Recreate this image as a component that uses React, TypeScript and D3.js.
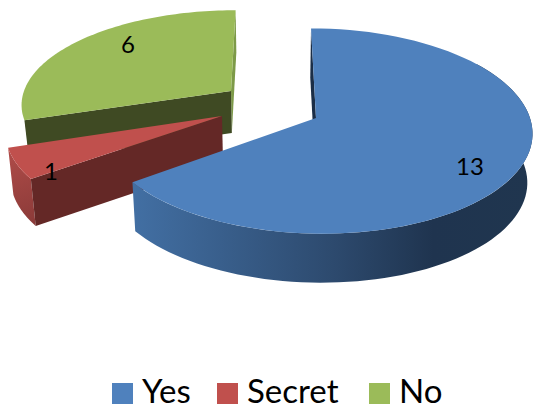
import React from "react";
import * as d3 from "d3";

const categories = ["Yes", "Secret", "No"];
const values = [13, 1, 6];
const dataLabels = ["13", "1", "6"];

const topColors = ["#4f81bd", "#c0504d", "#9bbb59"];
const apexX = [316, 222, 231];
const apexY = [118, 116, 91];
const radiusX = [214, 214, 207];
const radiusY = [101, 99, 91];
const depths = [49, 47, 42];
const labelX = [470, 51, 128];
const labelY = [175, 180, 53];
const legendSwatchX = [112, 217, 369];
const legendTextX = [142, 247, 399];

const width = 534;
const height = 405;
const vanishX = 272;
const perspective = 0.127;
const floorScale = 0.98;

type Pt = [number, number];

// Perspective projection of a point on a slice's rim (t measured clockwise from the back).
const rim = (i: number, t: number): Pt => {
  const u = Math.sin(t);
  const v = -Math.cos(t);
  const d = 1 - perspective * v;
  return [
    vanishX + (apexX[i] - vanishX + radiusX[i] * u) / d,
    apexY[i] + (radiusY[i] * v) / d,
  ];
};

const apex = (i: number): Pt => [apexX[i], apexY[i]];

// Same point pushed down to the underside of the slab.
const drop = (i: number, p: Pt): Pt => [
  vanishX + (p[0] - vanishX) * floorScale,
  p[1] + depths[i],
];

const line = d3.line<Pt>().curve(d3.curveLinearClosed);

const arcPoints = (i: number, a: number, b: number): Pt[] =>
  d3.range(0, 81).map((k) => rim(i, a + ((b - a) * k) / 80));

const wall = (i: number, pts: Pt[]): string =>
  line([...pts, ...pts.map((p) => drop(i, p)).reverse()]) ?? "";

const arcs = d3
  .pie<number>()
  .sort(null)
  .value((d) => d)(values);

const deg = Math.PI / 180;

export default function App() {
  const [yes, secret, no] = arcs;
  const top = (i: number, a: number, b: number) =>
    line([apex(i), ...arcPoints(i, a, b)]) ?? "";

  return (
    <svg
      width={width}
      height={height}
      viewBox={`0 0 ${width} ${height}`}
      style={{ position: "fixed", left: 0, top: 0, background: "#fff" }}
      fontFamily="Lato, 'Open Sans', sans-serif"
    >
      <defs>
        <linearGradient id="yesSide" gradientUnits="userSpaceOnUse" x1="134" y1="0" x2="533" y2="0">
          <stop offset="0" stopColor="#426fa3" />
          <stop offset="0.5" stopColor="#2d4a6e" />
          <stop offset="0.75" stopColor="#1f344f" />
          <stop offset="1" stopColor="#20364f" />
        </linearGradient>
        <linearGradient id="secretSide" gradientUnits="userSpaceOnUse" x1="9" y1="148" x2="36" y2="226">
          <stop offset="0" stopColor="#b04c49" />
          <stop offset="1" stopColor="#8a3a38" />
        </linearGradient>
      </defs>

      {/* "No" slab */}
      <path d={wall(2, [rim(2, no.endAngle), apex(2)])} fill="#7d9a48" />
      <path d={wall(2, [apex(2), rim(2, no.startAngle)])} fill="#3f4a23" />
      <path d={top(2, no.startAngle, no.endAngle)} fill={topColors[2]} />

      {/* "Secret" slab */}
      <path d={wall(1, arcPoints(1, secret.startAngle, secret.endAngle))} fill="url(#secretSide)" />
      <path d={wall(1, [rim(1, secret.startAngle), apex(1)])} fill="#642826" />
      <path d={top(1, secret.startAngle, secret.endAngle)} fill={topColors[1]} />

      {/* "Yes" slab */}
      <path d={wall(0, [rim(0, yes.startAngle), apex(0)])} fill="#1b2e47" />
      <path d={wall(0, arcPoints(0, 55 * deg, yes.endAngle))} fill="url(#yesSide)" />
      <path d={top(0, yes.startAngle, yes.endAngle)} fill={topColors[0]} />

      {dataLabels.map((t, i) => (
        <text key={t} x={labelX[i]} y={labelY[i]} textAnchor="middle" fontSize={24} fill="#000">
          {t}
        </text>
      ))}

      {categories.map((c, i) => (
        <g key={c}>
          <rect x={legendSwatchX[i]} y={383} width={21} height={21} fill={topColors[i]} />
          <text x={legendTextX[i]} y={403} fontSize={33} fill="#000">
            {c}
          </text>
        </g>
      ))}
    </svg>
  );
}
